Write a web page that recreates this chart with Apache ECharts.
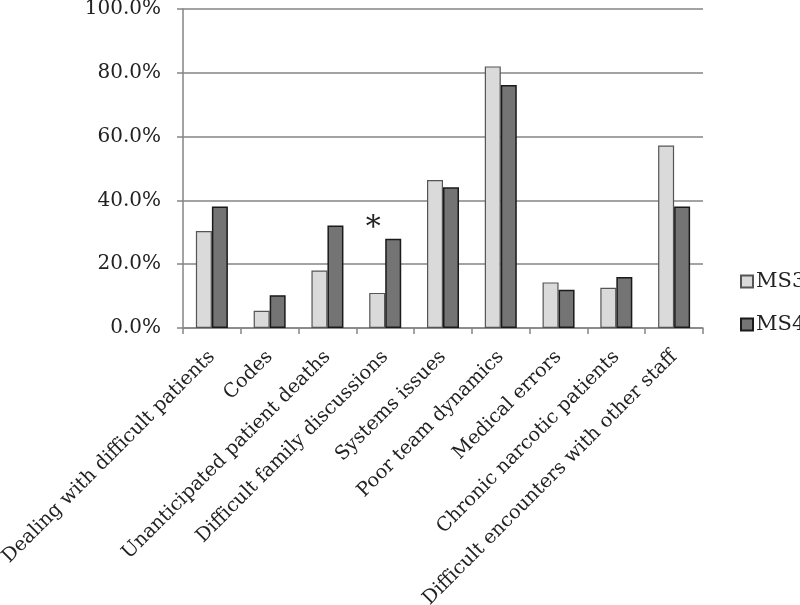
<!DOCTYPE html>
<html>
<head>
<meta charset="utf-8">
<script src="https://cdn.jsdelivr.net/npm/echarts@6/dist/echarts.min.js"></script>
<style>
html,body{margin:0;padding:0;background:#fff;}
#chart{width:800px;height:605px;}
</style>
</head>
<body>
<div id="chart"></div>
<script>
const categories = [
  'Dealing with difficult patients',
  'Codes',
  'Unanticipated patient deaths',
  'Difficult family discussions',
  'Systems issues',
  'Poor team dynamics',
  'Medical errors',
  'Chronic narcotic patients',
  'Difficult encounters with other staff'
];
const ms3 = [30.4, 5.4, 18.0, 11.0, 46.4, 82.0, 14.3, 12.6, 57.2];
const ms4 = [38.1, 10.3, 32.1, 28.0, 44.1, 76.2, 12.0, 16.0, 38.1];
const yTicks = [0, 20, 40, 60, 80, 100];
const starIndex = 3;

const FONT = 'DejaVu Serif';
const chart = echarts.init(document.getElementById('chart'), null, {renderer: 'canvas'});

const ms3Data = ms3.map((v, i) => i === starIndex ? {
  value: v,
  label: {show: true, formatter: '*', position: 'top', distance: 50, offset: [-4, 0],
          fontSize: 30, fontFamily: FONT, color: '#222'}
} : v);

chart.setOption({
  animation: false,
  backgroundColor: '#fff',
  grid: {left: 183, right: 97, top: 9, bottom: 277, containLabel: false, outerBoundsMode: 'none'},
  legend: {
    orient: 'vertical',
    left: 740, top: 271, padding: 0,
    itemWidth: 12, itemHeight: 12, itemGap: 22,
    icon: 'rect',
    textStyle: {fontFamily: FONT, fontSize: 21, color: '#222', padding: [0,0,0,-2]},
    data: ['MS3', 'MS4']
  },
  xAxis: {
    type: 'category',
    data: categories,
    axisLine: {lineStyle: {color: '#858585', width: 1.5}},
    axisTick: {show: true, length: 6, lineStyle: {color: '#858585', width: 1.5}},
    axisLabel: {rotate: 45, interval: 0, margin: 26, fontFamily: FONT, fontSize: 19.3, color: '#222'}
  },
  yAxis: {
    type: 'value',
    min: yTicks[0], max: yTicks[yTicks.length - 1], interval: 20,
    axisLine: {show: true, lineStyle: {color: '#858585', width: 1.5}},
    axisTick: {show: true, length: 6, lineStyle: {color: '#858585', width: 1.5}},
    splitLine: {lineStyle: {color: '#858585', width: 1.5}},
    axisLabel: {margin: 22, fontFamily: FONT, fontSize: 20, color: '#222',
                formatter: v => v.toFixed(1) + '%'}
  },
  series: [
    {name: 'MS3', type: 'bar', data: ms3Data, barWidth: 16, barGap: '0%',
     itemStyle: {color: '#dadada', borderColor: '#555', borderWidth: 1.2}},
    {name: 'MS4', type: 'bar', data: ms4, barWidth: 16, barGap: '0%',
     itemStyle: {color: '#747474', borderColor: '#1a1a1a', borderWidth: 1.5}}
  ]
});
</script>
</body>
</html>
